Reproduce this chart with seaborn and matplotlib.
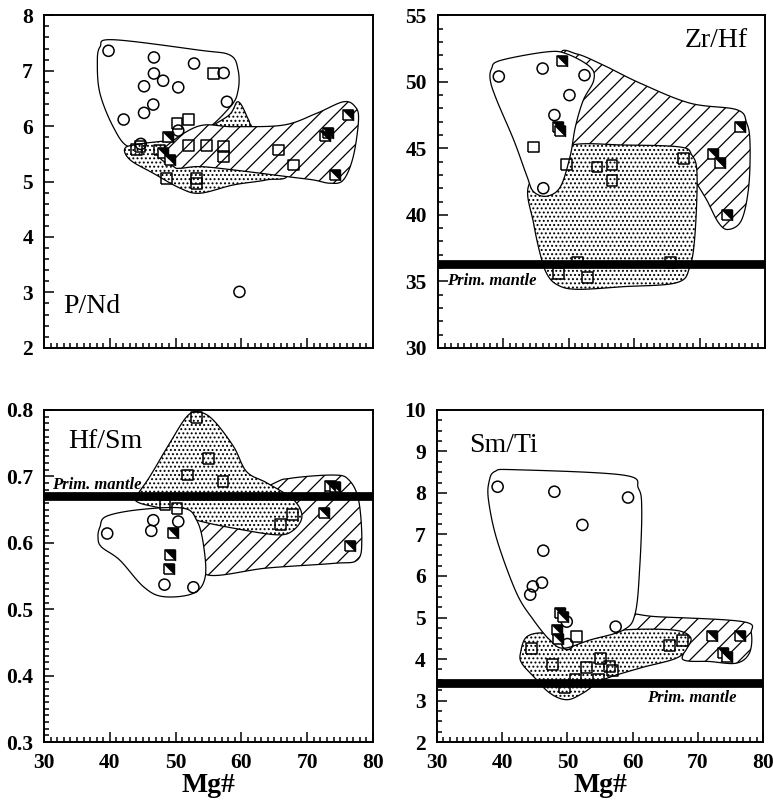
import numpy as np
import pandas as pd
import matplotlib
matplotlib.use("Agg")
import matplotlib.pyplot as plt
from matplotlib.ticker import MultipleLocator, FormatStrFormatter
import seaborn as sns

# ---------------- data ----------------
# Panel 1: P/Nd
pnd_circ_x = [39.8, 42.1, 46.7, 46.7, 48.1, 45.2, 50.4, 52.8, 46.6, 45.2, 50.4, 57.3, 57.8, 59.7, 44.7]
pnd_circ_y = [7.36, 6.12, 7.24, 6.95, 6.82, 6.72, 6.70, 7.13, 6.39, 6.24, 5.92, 6.96, 6.44, 3.01, 5.68]
pnd_sq_x = [55.7, 50.2, 51.9, 44.6, 47.6, 51.9, 54.7, 57.3, 57.3, 65.6, 67.9, 48.6, 53.2, 53.2, 44.1]
pnd_sq_y = [6.95, 6.05, 6.12, 5.63, 5.57, 5.65, 5.65, 5.63, 5.45, 5.57, 5.30, 5.06, 5.06, 4.97, 5.58]
pnd_half_x = [48.9, 48.1, 49.1, 72.7, 73.2, 76.2, 74.2]
pnd_half_y = [5.80, 5.51, 5.39, 5.82, 5.87, 6.20, 5.12]

# Panel 2: Zr/Hf
zrhf_circ_x = [39.3, 46.0, 52.4, 50.1, 47.8, 46.1]
zrhf_circ_y = [50.4, 51.0, 50.5, 49.0, 47.5, 42.0]
zrhf_sq_x = [44.6, 49.7, 54.3, 56.6, 56.6, 67.5, 48.4, 51.3, 52.9, 65.6]
zrhf_sq_y = [45.1, 43.8, 43.6, 43.75, 42.6, 44.25, 35.6, 36.45, 35.3, 36.4]
zrhf_half_x = [49.0, 48.4, 48.6, 76.2, 72.1, 73.1, 74.2]
zrhf_half_y = [51.6, 46.6, 46.3, 46.6, 44.6, 43.9, 40.0]

# Panel 3: Hf/Sm
hfsm_circ_x = [39.6, 46.6, 46.3, 50.4, 48.3, 52.7]
hfsm_circ_y = [0.614, 0.634, 0.618, 0.632, 0.537, 0.533]
hfsm_sq_x = [53.2, 55.0, 51.8, 57.2, 50.2, 48.4, 65.9, 67.8]
hfsm_sq_y = [0.789, 0.727, 0.702, 0.692, 0.652, 0.657, 0.628, 0.643]
hfsm_half_x = [49.6, 49.2, 49.0, 73.5, 74.2, 72.5, 76.5]
hfsm_half_y = [0.615, 0.581, 0.561, 0.686, 0.684, 0.645, 0.595]

# Panel 4: Sm/Ti
smti_circ_x = [39.3, 48.0, 59.3, 52.3, 46.3, 46.1, 44.7, 44.3, 49.9, 50.0, 57.4]
smti_circ_y = [8.15, 8.03, 7.89, 7.23, 6.61, 5.84, 5.75, 5.55, 4.90, 4.36, 4.78]
smti_sq_x = [51.4, 44.5, 47.7, 49.6, 51.3, 52.9, 55.1, 54.8, 56.5, 56.9, 65.6, 67.7]
smti_sq_y = [4.54, 4.26, 3.86, 3.32, 3.51, 3.80, 4.02, 3.50, 3.82, 3.72, 4.32, 4.45]
smti_half_x = [48.9, 49.3, 48.4, 48.6, 72.1, 76.4, 73.9, 74.4]
smti_half_y = [5.10, 5.02, 4.69, 4.48, 4.56, 4.56, 4.14, 4.06]

# Field outlines (data coordinates)
pnd_white_x = [38.5, 40.5, 53.7, 58.3, 59.5, 59.5, 58.3, 53.7, 46.6, 42.8, 40.5, 38.5, 38.1]
pnd_white_y = [7.43, 7.56, 7.37, 7.28, 7.01, 6.65, 6.35, 5.87, 5.63, 5.63, 5.99, 6.59, 7.13]
pnd_dot_x = [42.3, 44.6, 51.7, 57.8, 59.5, 61.1, 61.8, 66.9, 63.8, 58.8, 53.7, 50.7, 46.6, 43.1]
pnd_dot_y = [5.60, 5.68, 5.81, 6.17, 6.44, 6.11, 5.96, 5.15, 5.03, 4.94, 4.79, 4.88, 5.15, 5.39]
pnd_hatch_x = [47.6, 53.2, 58.8, 66.4, 71.4, 75.5, 77.3, 77.8, 77.0, 75.5, 73.5, 70.9, 66.9, 58.8, 53.7, 50.7, 49.7]
pnd_hatch_y = [5.51, 5.99, 5.99, 6.02, 6.23, 6.44, 6.35, 6.11, 5.45, 5.03, 4.97, 5.03, 5.09, 5.21, 5.27, 5.24, 5.27]

zrhf_white_x = [38.2, 39.5, 46.6, 49.7, 53.3, 53.8, 52.2, 51.0, 50.2, 48.7, 46.6, 44.6, 43.6, 41.6, 39.0, 38.0]
zrhf_white_y = [51.0, 51.6, 52.25, 52.1, 51.1, 50.1, 48.6, 46.6, 44.4, 42.1, 41.4, 41.75, 42.9, 45.6, 48.6, 50.1]
zrhf_dot_x = [50.5, 58.4, 67.0, 68.8, 69.6, 69.3, 68.5, 66.5, 58.4, 51.2, 48.2, 46.6, 45.6, 44.6, 43.8, 47.0]
zrhf_dot_y = [45.25, 45.25, 45.1, 44.5, 43.1, 38.6, 36.1, 34.9, 34.6, 34.4, 34.75, 35.6, 37.1, 39.4, 42.1, 44.0]
zrhf_hatch_x = [48.7, 51.2, 55.3, 60.9, 68.5, 75.7, 77.2, 77.7, 77.5, 76.4, 74.4, 72.9, 71.1, 69.3, 67.5, 58.4, 50.7, 50.2]
zrhf_hatch_y = [52.0, 52.1, 51.25, 49.9, 48.4, 47.9, 46.9, 45.4, 42.1, 39.6, 38.9, 39.4, 41.1, 42.6, 44.4, 45.1, 45.1, 47.9]

hfsm_white_x = [38.5, 39.5, 44.6, 51.2, 53.2, 54.2, 54.5, 52.7, 48.1, 45.1, 41.5, 38.7, 38.2]
hfsm_white_y = [0.624, 0.640, 0.650, 0.652, 0.634, 0.599, 0.549, 0.524, 0.519, 0.534, 0.574, 0.594, 0.609]
hfsm_dot_x = [44.1, 46.1, 49.1, 51.7, 53.5, 55.7, 58.8, 60.8, 63.9, 67.9, 69.2, 67.9, 65.4, 58.8, 53.2, 48.6, 44.5]
hfsm_dot_y = [0.670, 0.700, 0.750, 0.790, 0.797, 0.785, 0.745, 0.707, 0.690, 0.665, 0.640, 0.619, 0.612, 0.622, 0.634, 0.650, 0.660]
hfsm_hatch_x = [64.4, 67.4, 74.0, 76.3, 77.8, 78.3, 77.6, 74.0, 63.9, 54.7, 53.7, 52.7]
hfsm_hatch_y = [0.687, 0.697, 0.702, 0.695, 0.665, 0.604, 0.574, 0.569, 0.562, 0.552, 0.594, 0.629]

smti_white_x = [38.9, 42.0, 58.6, 60.9, 61.4, 61.1, 60.4, 58.6, 53.5, 49.4, 47.3, 44.8, 42.2, 39.2, 37.9, 38.0]
smti_white_y = [8.52, 8.56, 8.43, 8.11, 7.59, 6.23, 5.10, 4.70, 4.46, 4.26, 4.46, 4.94, 5.59, 6.87, 7.83, 8.28]
smti_dot_x = [42.8, 43.8, 46.8, 49.4, 53.5, 58.6, 66.2, 68.8, 68.5, 66.7, 61.1, 55.5, 52.4, 49.9, 47.3, 44.8, 43.0]
smti_dot_y = [4.14, 4.54, 4.62, 4.38, 4.54, 4.70, 4.70, 4.54, 4.30, 4.02, 3.78, 3.50, 3.18, 3.02, 3.18, 3.58, 3.90]
smti_hatch_x = [59.6, 63.7, 76.9, 78.2, 77.9, 75.9, 71.8, 67.8, 67.2, 58.6]
smti_hatch_y = [5.06, 5.02, 4.90, 4.62, 4.14, 3.90, 3.94, 3.98, 4.30, 4.62]

# Primitive mantle reference values
prim_mantle = {"P/Nd": None, "Zr/Hf": 36.3, "Hf/Sm": 0.671, "Sm/Ti": 3.43}

# ---------------- style ----------------
sns.set_theme(style="white")
plt.rcParams["font.family"] = ["Liberation Serif", "DejaVu Serif"]
plt.rcParams["text.color"] = "black"
plt.rcParams["axes.labelcolor"] = "black"
plt.rcParams["xtick.color"] = "black"
plt.rcParams["ytick.color"] = "black"
plt.rcParams["hatch.linewidth"] = 0.9
plt.rcParams["hatch.color"] = "black"

fig = plt.figure(figsize=(7.73, 8.07), dpi=100)
pos = {
    "P/Nd": [0.057, 0.569, 0.4255, 0.412],
    "Zr/Hf": [0.5666, 0.569, 0.4231, 0.412],
    "Hf/Sm": [0.057, 0.0805, 0.4255, 0.4115],
    "Sm/Ti": [0.5653, 0.0805, 0.4218, 0.4115],
}


def smooth_closed(xs, ys, n=24):
    P = np.column_stack([xs, ys]).astype(float)
    m = len(P)
    out = []
    t = np.linspace(0, 1, n, endpoint=False)[:, None]
    for i in range(m):
        p0, p1, p2, p3 = P[(i - 1) % m], P[i], P[(i + 1) % m], P[(i + 2) % m]
        seg = 0.5 * ((2 * p1) + (-p0 + p2) * t + (2 * p0 - 5 * p1 + 4 * p2 - p3) * t ** 2
                     + (-p0 + 3 * p1 - 3 * p2 + p3) * t ** 3)
        out.append(seg)
    out = np.vstack(out)
    return out[:, 0], out[:, 1]


sq_verts = [(-1, -1), (1, -1), (1, 1), (-1, 1), (-1, -1)]
tri_verts = [(-1, 1), (1, 1), (1, -1), (-1, 1)]


def field(ax, xs, ys, kind, z):
    sx, sy = smooth_closed(xs, ys)
    hatch = {"white": None, "dot": "....", "hatch": "//"}[kind]
    ax.fill(sx, sy, facecolor="white", edgecolor="black", lw=0.9, hatch=hatch, zorder=z)


def points(ax, cx, cy, sx_, sy_, hx, hy):
    sns.scatterplot(x=cx, y=cy, ax=ax, marker="o", s=64, facecolor="none",
                    edgecolor="black", linewidth=1.1, zorder=10, legend=False)
    sns.scatterplot(x=sx_, y=sy_, ax=ax, marker=sq_verts, s=60, facecolor="none",
                    edgecolor="black", linewidth=1.1, zorder=10, legend=False)
    sns.scatterplot(x=hx, y=hy, ax=ax, marker=sq_verts, s=60, facecolor="white",
                    edgecolor="black", linewidth=1.1, zorder=11, legend=False)
    sns.scatterplot(x=hx, y=hy, ax=ax, marker=tri_verts, s=60, facecolor="black",
                    edgecolor="black", linewidth=0.5, zorder=12, legend=False)


panels = [
    ("P/Nd", (2, 8), 1, 0.2, False,
     [(pnd_white_x, pnd_white_y, "white", 2), (pnd_dot_x, pnd_dot_y, "dot", 3), (pnd_hatch_x, pnd_hatch_y, "hatch", 4)],
     (pnd_circ_x, pnd_circ_y, pnd_sq_x, pnd_sq_y, pnd_half_x, pnd_half_y)),
    ("Zr/Hf", (30, 55), 5, 1, False,
     [(zrhf_hatch_x, zrhf_hatch_y, "hatch", 2), (zrhf_dot_x, zrhf_dot_y, "dot", 3), (zrhf_white_x, zrhf_white_y, "white", 4)],
     (zrhf_circ_x, zrhf_circ_y, zrhf_sq_x, zrhf_sq_y, zrhf_half_x, zrhf_half_y)),
    ("Hf/Sm", (0.3, 0.8), 0.1, 0.01, True,
     [(hfsm_hatch_x, hfsm_hatch_y, "hatch", 2), (hfsm_dot_x, hfsm_dot_y, "dot", 3), (hfsm_white_x, hfsm_white_y, "white", 4)],
     (hfsm_circ_x, hfsm_circ_y, hfsm_sq_x, hfsm_sq_y, hfsm_half_x, hfsm_half_y)),
    ("Sm/Ti", (2, 10), 1, 0.25, True,
     [(smti_hatch_x, smti_hatch_y, "hatch", 2), (smti_dot_x, smti_dot_y, "dot", 3), (smti_white_x, smti_white_y, "white", 4)],
     (smti_circ_x, smti_circ_y, smti_sq_x, smti_sq_y, smti_half_x, smti_half_y)),
]

label_pos = {
    "P/Nd": (32.9, 2.63, "left"),
    "Zr/Hf": (77.4, 52.6, "right"),
    "Hf/Sm": (33.6, 0.743, "left"),
    "Sm/Ti": (34.9, 8.99, "left"),
}
pm_text_pos = {
    "Zr/Hf": (31.4, 34.7),
    "Hf/Sm": (31.2, 0.681),
    "Sm/Ti": (62.2, 2.96),
}

for name, ylim, ymaj, ymin, bottom_labels, fields, pts in panels:
    ax = fig.add_axes(pos[name])
    for fx, fy, kind, z in fields:
        field(ax, fx, fy, kind, z)
    points(ax, *pts)
    pm = prim_mantle[name]
    if pm is not None:
        ax.axhline(pm, color="black", lw=6.3, zorder=6)
        tx, ty = pm_text_pos[name]
        ax.text(tx, ty, "Prim. mantle", fontsize=12, fontstyle="italic", fontweight="bold",
                ha="left", va="baseline", zorder=7)
    lx, ly, ha = label_pos[name]
    ax.text(lx, ly, name, fontsize=20, ha=ha, va="baseline", zorder=15)

    ax.set_xlim(30, 80)
    ax.set_ylim(*ylim)
    ax.xaxis.set_major_locator(MultipleLocator(10))
    ax.xaxis.set_minor_locator(MultipleLocator(1))
    ax.yaxis.set_major_locator(MultipleLocator(ymaj))
    ax.yaxis.set_minor_locator(MultipleLocator(ymin))
    ax.tick_params(which="both", direction="in", bottom=True, left=True, top=False, right=False,
                   color="black", width=1.1, labelsize=15.5, labelcolor="black")
    ax.tick_params(which="major", length=7, pad=8)
    ax.tick_params(which="minor", length=3.5)
    for lab in ax.get_xticklabels() + ax.get_yticklabels():
        lab.set_fontweight("bold")
    for sp in ax.spines.values():
        sp.set_visible(True)
        sp.set_color("black")
        sp.set_linewidth(1.4)
    ax.set_facecolor("white")
    ax.set_ylabel("")
    if name == "Hf/Sm":
        ax.yaxis.set_major_formatter(FormatStrFormatter("%.1f"))
    if bottom_labels:
        ax.set_xlabel("Mg#", fontsize=20, fontweight="bold", labelpad=0)
    else:
        ax.set_xlabel("")
        ax.tick_params(axis="x", labelbottom=False)
    for lab in ax.get_xticklabels() + ax.get_yticklabels():
        lab.set_fontweight("bold")

fig.savefig("out.png", dpi=100, facecolor="white")
